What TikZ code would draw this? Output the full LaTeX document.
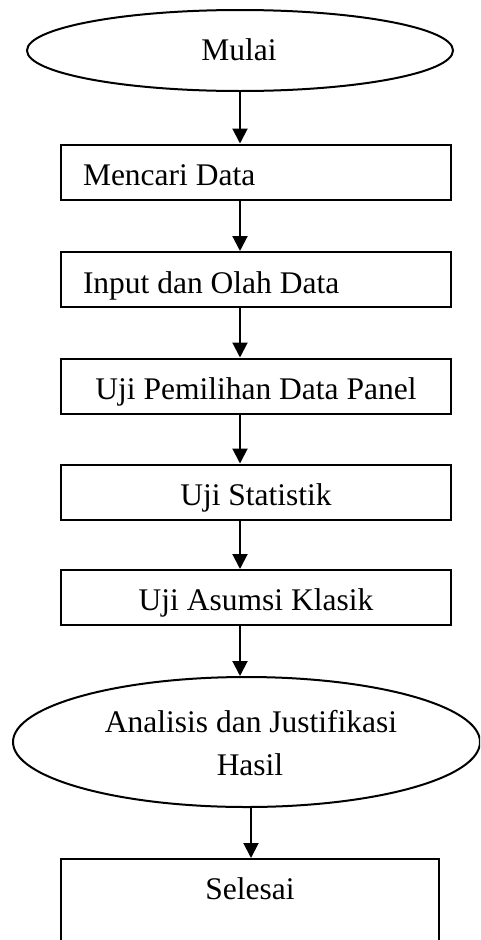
\documentclass[tikz,border=0pt]{standalone}
\usepackage{fontspec}
\setmainfont{Liberation Serif}
\usetikzlibrary{shapes.geometric,arrows.meta}
\begin{document}
\begin{tikzpicture}[x=1pt,y=-1pt,
  line width=2pt,
  ellbox/.style={draw,ellipse,inner sep=0pt},
  stepbox/.style={draw,rectangle,inner sep=0pt,minimum width=390pt,minimum height=55pt},
  lbl/.style={inner sep=0pt,font=\fontsize{31.5}{42}\selectfont},
  arr/.style={-{Triangle[length=15pt,width=15pt]}}]
\clip (0,0) rectangle (480,940);
\fill[white] (0,0) rectangle (480,940);
\coordinate (ax) at (240,0);
\coordinate (bx) at (251,0);
% shapes
\node[ellbox,minimum width=426pt,minimum height=81pt] (e1) at (240,50.5) {};
\node[stepbox] (b1) at (256,172) {};
\node[stepbox] (b2) at (256,279.5) {};
\node[stepbox] (b3) at (256,386) {};
\node[stepbox] (b4) at (256,492) {};
\node[stepbox] (b5) at (256,597.5) {};
\node[ellbox,minimum width=467pt,minimum height=130pt] (e2) at (246.5,742) {};
\node[draw,rectangle,inner sep=0pt,minimum width=378pt,minimum height=120pt] (b6) at (250,919) {};
% texts
\node[lbl,anchor=base] (t0) at (239,60) {Mulai};
\node[lbl,anchor=base west] (t1) at (82,185) {Mencari Data};
\node[lbl,anchor=base west] (t2) at (82,293) {Input dan Olah Data};
\node[lbl,anchor=base] (t3) at (256,399) {Uji Pemilihan Data Panel};
\node[lbl,anchor=base] (t4) at (256,505) {Uji Statistik};
\node[lbl,anchor=base] (t5) at (256,610) {Uji Asumsi Klasik};
\node[lbl,anchor=base] (t6a) at (251,732) {Analisis dan Justifikasi};
\node[lbl,anchor=base] (t6b) at (250,775) {Hasil};
\node[lbl,anchor=base] (t7) at (250,899) {Selesai};
% connectors
\draw[arr] (e1.south) -- (e1.south |- b1.north);
\draw[arr] (b1.south -| ax) -- (b2.north -| ax);
\draw[arr] (b2.south -| ax) -- (b3.north -| ax);
\draw[arr] (b3.south -| ax) -- (b4.north -| ax);
\draw[arr] (b4.south -| ax) -- (b5.north -| ax);
\draw[arr] (b5.south -| ax) -- (e2.north -| ax);
\draw[arr] (e2.south -| bx) -- (b6.north -| bx);
\end{tikzpicture}
\end{document}
